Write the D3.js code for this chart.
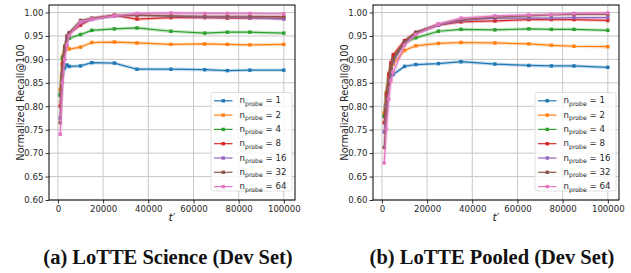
<!DOCTYPE html>
<html>
<head>
<meta charset="utf-8">
<script src="https://cdn.jsdelivr.net/npm/d3@7"></script>
<style>
  body { margin: 0; background: #fff; }
</style>
</head>
<body>
<svg id="chart" width="631" height="273"></svg>
<script>
// t' values (same for every series)
var tPrime = [1000, 2000, 3000, 4000, 5000, 10000, 15000, 25000, 35000, 50000, 65000, 75000, 85000, 100000];
var nprobe = [1, 2, 4, 8, 16, 32, 64];
var colors = ["#1f77b4", "#ff7f0e", "#2ca02c", "#d62728", "#9467bd", "#8c564b", "#e377c2"];

// (a) LoTTE Science, one row per nprobe
var science = [
  [0.825, 0.868, 0.882, 0.888, 0.885, 0.886, 0.893, 0.892, 0.879, 0.879, 0.878, 0.876, 0.877, 0.877],
  [0.835, 0.906, 0.924, 0.928, 0.922, 0.926, 0.936, 0.937, 0.935, 0.932, 0.933, 0.932, 0.931, 0.932],
  [0.823, 0.902, 0.928, 0.942, 0.945, 0.953, 0.962, 0.965, 0.967, 0.960, 0.956, 0.958, 0.958, 0.956],
  [0.800, 0.890, 0.925, 0.945, 0.955, 0.973, 0.987, 0.994, 0.986, 0.989, 0.989, 0.988, 0.988, 0.988],
  [0.775, 0.870, 0.920, 0.945, 0.955, 0.978, 0.985, 0.992, 0.995, 0.992, 0.990, 0.990, 0.989, 0.986],
  [0.765, 0.865, 0.920, 0.950, 0.957, 0.983, 0.988, 0.994, 0.994, 0.993, 0.992, 0.992, 0.992, 0.991],
  [0.740, 0.850, 0.900, 0.930, 0.951, 0.980, 0.986, 0.993, 0.998, 0.999, 0.998, 0.998, 0.998, 0.997]
];

// (b) LoTTE Pooled, one row per nprobe
var pooled = [
  [0.780, 0.820, 0.850, 0.865, 0.868, 0.885, 0.889, 0.891, 0.895, 0.890, 0.887, 0.886, 0.886, 0.883],
  [0.785, 0.830, 0.865, 0.885, 0.890, 0.919, 0.929, 0.934, 0.936, 0.935, 0.933, 0.930, 0.928, 0.927],
  [0.778, 0.828, 0.868, 0.890, 0.905, 0.935, 0.946, 0.960, 0.964, 0.963, 0.965, 0.964, 0.964, 0.962],
  [0.765, 0.825, 0.868, 0.893, 0.910, 0.940, 0.957, 0.973, 0.980, 0.982, 0.985, 0.985, 0.985, 0.983],
  [0.745, 0.800, 0.850, 0.880, 0.895, 0.935, 0.955, 0.973, 0.983, 0.988, 0.988, 0.988, 0.989, 0.989],
  [0.712, 0.790, 0.848, 0.880, 0.900, 0.938, 0.958, 0.975, 0.985, 0.990, 0.993, 0.995, 0.996, 0.996],
  [0.679, 0.752, 0.815, 0.855, 0.872, 0.930, 0.953, 0.975, 0.988, 0.993, 0.995, 0.996, 0.998, 0.999]
];

var yTicks = [0.60, 0.65, 0.70, 0.75, 0.80, 0.85, 0.90, 0.95, 1.00];
var xTicks = [0, 20000, 40000, 60000, 80000, 100000];

var panels = [
  {data: science, left: 49, right: 295, caption: "(a) LoTTE Science (Dev Set)"},
  {data: pooled, left: 373, right: 619, caption: "(b) LoTTE Pooled (Dev Set)"}
];
var plotTop = 5, plotBottom = 200;
var sans = "DejaVu Sans, sans-serif";

var svg = d3.select("#chart");
svg.append("rect").attr("width", 631).attr("height", 273).attr("fill", "#fff");

panels.forEach(function(p) {
  var g = svg.append("g");

  var x = d3.scaleLinear().domain([-3950, 104950]).range([p.left, p.right]);
  var y = d3.scaleLinear().domain([0.6, 1.016]).range([plotBottom, plotTop]);

  // grid
  g.append("g").selectAll("line").data(xTicks).enter().append("line")
    .attr("x1", function(d){ return x(d); }).attr("x2", function(d){ return x(d); })
    .attr("y1", plotTop).attr("y2", plotBottom)
    .attr("stroke", "#c8c8c8").attr("stroke-width", 1);
  g.append("g").selectAll("line").data(yTicks).enter().append("line")
    .attr("y1", function(d){ return y(d); }).attr("y2", function(d){ return y(d); })
    .attr("x1", p.left).attr("x2", p.right)
    .attr("stroke", "#c8c8c8").attr("stroke-width", 1);

  var line = d3.line()
    .x(function(d, i){ return x(tPrime[i]); })
    .y(function(d){ return y(d); });

  p.data.forEach(function(vals, k) {
    // faint band around each line
    g.append("path").datum(vals)
      .attr("d", line).attr("fill", "none")
      .attr("stroke", colors[k]).attr("stroke-width", 3.4).attr("stroke-opacity", 0.25);
    g.append("path").datum(vals)
      .attr("d", line).attr("fill", "none")
      .attr("stroke", colors[k]).attr("stroke-width", 1.2);
    g.append("g").selectAll("rect").data(vals).enter().append("rect")
      .attr("x", function(d, i){ return x(tPrime[i]) - 1.7; })
      .attr("y", function(d){ return y(d) - 1.7; })
      .attr("width", 3.4).attr("height", 3.4)
      .attr("fill", colors[k]);
  });

  // frame
  g.append("rect")
    .attr("x", p.left).attr("y", plotTop)
    .attr("width", p.right - p.left).attr("height", plotBottom - plotTop)
    .attr("fill", "none").attr("stroke", "#000").attr("stroke-width", 1);

  // axes
  var xAxis = g.append("g")
    .attr("transform", "translate(0," + plotBottom + ")")
    .call(d3.axisBottom(x).tickValues(xTicks).tickSize(3.5).tickPadding(2).tickFormat(d3.format("d")));
  var yAxis = g.append("g")
    .attr("transform", "translate(" + p.left + ",0)")
    .call(d3.axisLeft(y).tickValues(yTicks).tickSize(3.5).tickPadding(2).tickFormat(d3.format(".2f")));
  [xAxis, yAxis].forEach(function(a) {
    a.select(".domain").remove();
    a.selectAll("line").attr("stroke", "#000").attr("stroke-width", 0.8);
    a.selectAll("text").attr("font-size", "8.6px").attr("fill", "#262626")
      .attr("font-family", sans);
  });

  // axis labels
  var cx = (p.left + p.right) / 2;
  g.append("text")
    .attr("x", cx).attr("y", 221)
    .attr("text-anchor", "middle")
    .attr("font-family", sans)
    .attr("font-size", "11px").attr("font-style", "italic")
    .attr("fill", "#262626")
    .text("t\u2032");
  g.append("text")
    .attr("transform", "translate(" + (p.left - 25) + "," + ((plotTop + plotBottom) / 2) + ") rotate(-90)")
    .attr("text-anchor", "middle")
    .attr("font-family", sans)
    .attr("font-size", "9.8px")
    .attr("fill", "#262626")
    .text("Normalized Recall@100");

  // legend
  var lx = p.right - 84, ly = 92.5;
  var legend = g.append("g").attr("transform", "translate(" + lx + "," + ly + ")");
  legend.append("rect")
    .attr("width", 81).attr("height", 98.5).attr("rx", 2)
    .attr("fill", "#fff").attr("fill-opacity", 0.8)
    .attr("stroke", "#d8d8d8").attr("stroke-width", 0.8);
  var rows = legend.selectAll("g.row").data(nprobe).enter().append("g")
    .attr("class", "row")
    .attr("transform", function(d, i){ return "translate(0," + (8.3 + i * 14.3) + ")"; });
  rows.append("line")
    .attr("x1", 3).attr("x2", 21.5).attr("y1", 0).attr("y2", 0)
    .attr("stroke", function(d, i){ return colors[i]; }).attr("stroke-width", 1.2);
  rows.append("rect")
    .attr("x", 10.55).attr("y", -1.7).attr("width", 3.4).attr("height", 3.4)
    .attr("fill", function(d, i){ return colors[i]; });
  var label = rows.append("text")
    .attr("x", 28.5).attr("y", 2.5)
    .attr("font-family", sans)
    .attr("font-size", "8.6px")
    .attr("fill", "#262626");
  label.append("tspan").text("n");
  label.append("tspan").attr("dy", 2.4).attr("font-size", "6.2px").text("probe");
  label.append("tspan").attr("dy", -2.4).text(function(d){ return " = " + d; });

  // caption
  svg.append("text")
    .attr("x", cx - 4).attr("y", 264)
    .attr("text-anchor", "middle")
    .attr("font-family", "Liberation Serif, serif")
    .attr("font-weight", "bold")
    .attr("font-size", "20.5px")
    .attr("fill", "#111")
    .text(p.caption);
});
</script>
</body>
</html>
